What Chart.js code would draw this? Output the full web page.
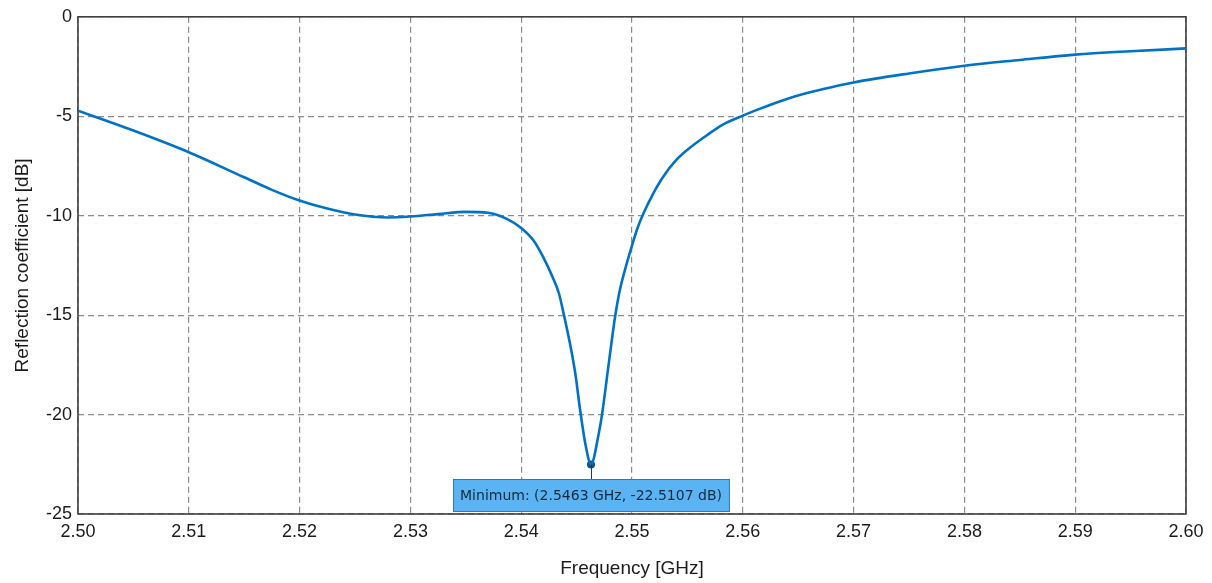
<!DOCTYPE html>
<html>
<head>
<meta charset="utf-8">
<title>Reflection coefficient</title>
<script src="https://cdn.jsdelivr.net/npm/chart.js@4.4.1/dist/chart.umd.min.js"></script>
<style>
  html, body { margin: 0; padding: 0; background: #fff; }
  #s11Chart { display: block; }
</style>
</head>
<body>
<canvas id="s11Chart" width="1212" height="583"></canvas>
<script>
// frequency samples [GHz]
var freqGHz = [2.500, 2.505, 2.510, 2.515, 2.5175, 2.520, 2.5225, 2.525, 2.528, 2.530, 2.5325, 2.535, 2.537,
    2.5387, 2.540, 2.5411, 2.5420, 2.5428, 2.5434, 2.5438, 2.5444, 2.5449, 2.5453, 2.5458, 2.5463,
    2.5470, 2.5473, 2.5479, 2.5485, 2.5489, 2.5495, 2.5500, 2.5505, 2.5510, 2.5519, 2.5528,
    2.5540, 2.5552, 2.5567, 2.5582, 2.5600, 2.5615, 2.5625, 2.5649, 2.5675, 2.570, 2.575, 2.580, 2.585,
    2.590, 2.595, 2.600];
// reflection coefficient [dB]
var s11dB = [-4.72, -5.72, -6.81, -8.07, -8.70, -9.24, -9.64, -9.94, -10.09, -10.04, -9.92, -9.81, -9.85,
    -10.16, -10.62, -11.24, -12.10, -13.05, -13.9, -14.85, -16.43, -18.0, -19.7, -21.5, -22.51,
    -20.95, -19.98, -17.44, -14.98, -13.75, -12.45, -11.5, -10.62, -9.93, -8.9, -8.05,
    -7.2, -6.6, -5.98, -5.42, -4.97, -4.63, -4.42, -3.97, -3.6, -3.3, -2.85, -2.46, -2.17,
    -1.9, -1.73, -1.59];
// marker for the minimum
var minFreq = [2.5463];
var minDB = [-22.5107];
var xTicks = [2.50, 2.51, 2.52, 2.53, 2.54, 2.55, 2.56, 2.57, 2.58, 2.59, 2.60];
var yTicks = [0, -5, -10, -15, -20, -25];

(function(){
    var TICK_FONT = { family: 'Liberation Sans, Arial, sans-serif', size: 18 };
    var TITLE_FONT = { family: 'Liberation Sans, Arial, sans-serif', size: 19 };

    var curve = freqGHz.map(function(f, i){ return { x: f, y: s11dB[i] }; });
    var minPt = minFreq.map(function(f, i){ return { x: f, y: minDB[i] }; });

    // frame round the plot area + the "Minimum" label box
    var framePlugin = {
        id: 'frame',
        beforeDatasetsDraw: function(chart){
            var a = chart.chartArea, ctx = chart.ctx;
            ctx.save();
            ctx.strokeStyle = '#3f3f3f';
            ctx.lineWidth = 1.6;
            ctx.strokeRect(a.left, a.top, a.right - a.left, a.bottom - a.top);
            ctx.restore();
        },
        afterDatasetsDraw: function(chart){
            var meta = chart.getDatasetMeta(1);
            if(!meta || !meta.data.length) return;
            var pt = meta.data[0], ctx = chart.ctx;
            var txt = 'Minimum: (' + minFreq[0].toFixed(4) + ' GHz, ' + minDB[0].toFixed(4) + ' dB)';
            ctx.save();
            ctx.font = '14px "DejaVu Sans", Verdana, sans-serif';
            var w = ctx.measureText(txt).width + 14;
            var h = 32;
            var bx = Math.round(pt.x - w / 2) + 0.5;
            var by = Math.round(pt.y + 15) + 0.5;
            ctx.strokeStyle = '#1e3c58';
            ctx.lineWidth = 1;
            ctx.beginPath();
            ctx.moveTo(Math.round(pt.x) + 0.5, pt.y);
            ctx.lineTo(Math.round(pt.x) + 0.5, by);
            ctx.stroke();
            ctx.fillStyle = '#5ab4f3';
            ctx.fillRect(bx, by, w, h);
            ctx.strokeStyle = '#2b78bd';
            ctx.strokeRect(bx, by, w, h);
            ctx.fillStyle = '#15283a';
            ctx.textBaseline = 'middle';
            ctx.textAlign = 'center';
            ctx.fillText(txt, pt.x, by + h / 2 + 1);
            ctx.restore();
        }
    };

    var gridOpts = {
        color: '#8c8c8c',
        lineWidth: 1.2,
        drawTicks: false
    };

    var ctx = document.getElementById('s11Chart').getContext('2d');
    new Chart(ctx, {
        type: 'line',
        data: {
            datasets: [
                { label: 'S11', data: curve, borderColor: '#0072c6', borderWidth: 2.6,
                  pointRadius: 0, cubicInterpolationMode: 'monotone', fill: false },
                { label: 'Minimum', data: minPt, showLine: false, pointRadius: 4,
                  pointBackgroundColor: '#134d7c', pointBorderColor: '#134d7c', pointBorderWidth: 0 }
            ]
        },
        plugins: [framePlugin],
        options: {
            responsive: false,
            animation: false,
            events: [],
            layout: { padding: { top: 16, right: 26, left: 0, bottom: 0 } },
            plugins: { legend: { display: false }, tooltip: { enabled: false } },
            scales: {
                x: {
                    type: 'linear',
                    min: xTicks[0], max: xTicks[xTicks.length - 1],
                    afterFit: function(s){ s.height = 69; },
                    afterBuildTicks: function(s){ s.ticks = xTicks.map(function(v){ return { value: v }; }); },
                    border: { display: false, dash: [6, 4] },
                    grid: gridOpts,
                    ticks: { color: '#1b1b1b', font: TICK_FONT, padding: 7, maxRotation: 0,
                             callback: function(v){ return Number(v).toFixed(2); } },
                    title: { display: true, text: 'Frequency [GHz]', color: '#1b1b1b', font: TITLE_FONT,
                             padding: { top: 0, bottom: 3 } }
                },
                y: {
                    min: yTicks[yTicks.length - 1], max: yTicks[0],
                    afterFit: function(s){ s.width = 78; },
                    afterBuildTicks: function(s){ s.ticks = yTicks.slice().reverse().map(function(v){ return { value: v }; }); },
                    border: { display: false, dash: [6, 4] },
                    grid: gridOpts,
                    ticks: { color: '#1b1b1b', font: TICK_FONT, padding: 6 },
                    title: { display: true, text: 'Reflection coefficient [dB]', color: '#1b1b1b', font: TITLE_FONT,
                             padding: { top: 11, bottom: 0 } }
                }
            }
        }
    });
})();
</script>
</body>
</html>
